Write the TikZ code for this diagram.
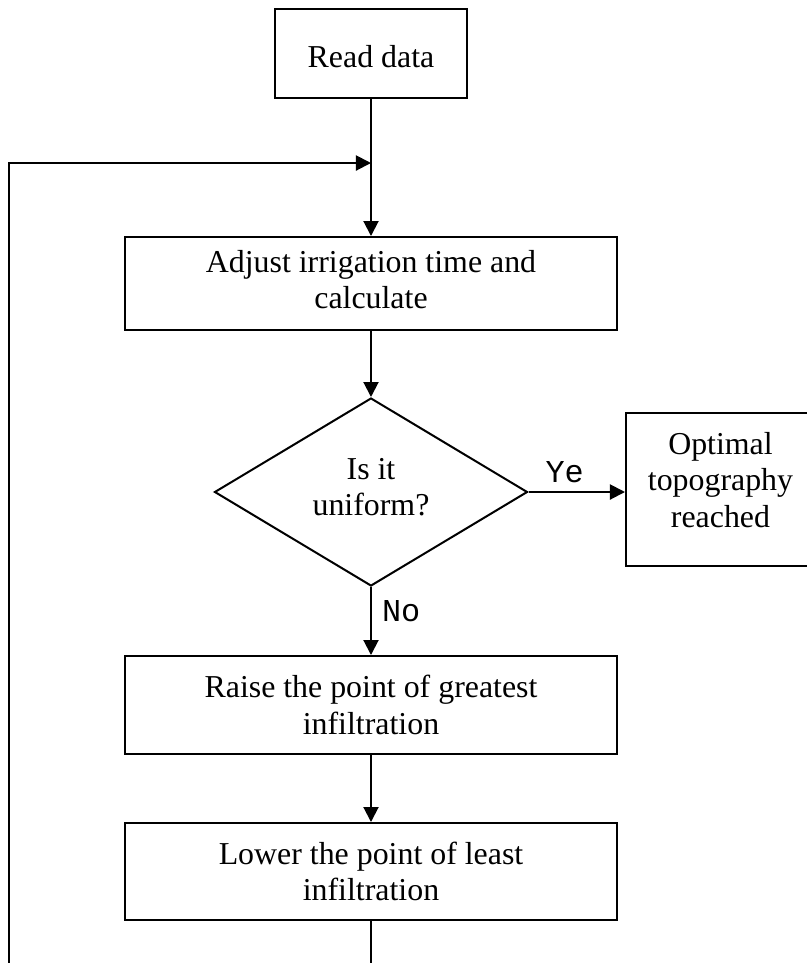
\documentclass[tikz,border=0pt]{standalone}
\usepackage{fontspec}
\setmainfont{Liberation Serif}
\setmonofont{Liberation Mono}
\usetikzlibrary{shapes.geometric,arrows.meta}
\begin{document}
\begin{tikzpicture}[x=0.4pt,y=-0.4pt,
  line width=0.8pt,
  font=\fontsize{12.75}{14.7}\selectfont,
  box/.style={draw,rectangle,align=center,inner sep=0pt},
  dec/.style={draw,diamond,align=center,inner sep=0pt},
  arr/.style={-{Triangle[length=6pt,width=6pt]}},
  lab/.style={font=\ttfamily\fontsize{12.75}{14.7}\selectfont,inner sep=0pt}]
\useasboundingbox (0,0) rectangle (807,963);
\node[box,minimum width=76.8pt,minimum height=35.6pt,text height=11.5pt] (read) at (371,53.5) {Read data};
\node[box,minimum width=196.4pt,minimum height=37.2pt,text depth=3.2pt] (adjust) at (371,283.5) {Adjust irrigation time and\\calculate};
\node[dec,minimum width=125.2pt,minimum height=75.2pt,text depth=4pt] (uni) at (371,492) {Is it\\uniform?};
\node[box,minimum width=75.6pt,minimum height=61.2pt,text depth=7.8pt] (opt) at (720.5,489.5) {Optimal\\topography\\reached};
\node[box,minimum width=196.4pt,minimum height=39.2pt] (raise) at (371,705) {Raise the point of greatest\\infiltration};
\node[box,minimum width=196.4pt,minimum height=38.8pt] (lower) at (371,871.5) {Lower the point of least\\infiltration};
\coordinate (join) at (371,163);
\coordinate (loopstart) at (9,970);
\coordinate (bottomend) at (371,970);
\draw[arr] (read.south) -- (adjust.north);
\draw[arr] (loopstart) |- (join);
\draw[arr] (adjust.south) -- (uni.north);
\draw[arr] (uni.east) -- (uni.east -| opt.west) node[lab,midway,anchor=base,xshift=-4.8pt,yshift=4pt] (ye) {Ye};
\draw[arr] (uni.south) -- (raise.north) node[lab,pos=0.5,anchor=base west,xshift=4pt] (no) {No};
\draw[arr] (raise.south) -- (lower.north);
\draw (lower.south) -- (bottomend);
\end{tikzpicture}
\end{document}
